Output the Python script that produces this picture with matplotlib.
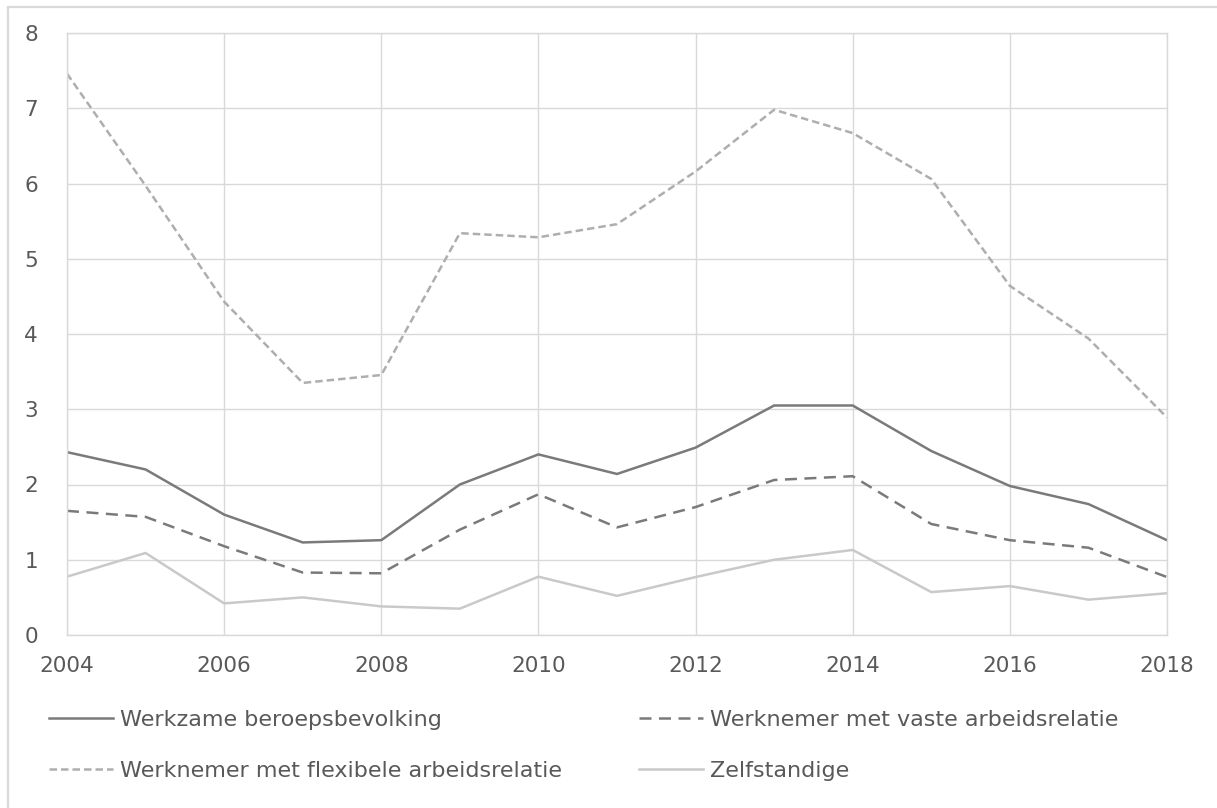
import matplotlib
matplotlib.use("Agg")
import matplotlib.pyplot as plt
from matplotlib.patches import Rectangle

years = list(range(2004, 2019))
werkzame = [2.43, 2.20, 1.60, 1.23, 1.26, 2.00, 2.40, 2.14, 2.49, 3.05, 3.05, 2.445, 1.98, 1.74, 1.26]
vaste = [1.65, 1.57, 1.18, 0.83, 0.82, 1.40, 1.87, 1.43, 1.70, 2.06, 2.11, 1.475, 1.26, 1.16, 0.77]
flexibel = [7.46, 5.97, 4.43, 3.35, 3.455, 5.34, 5.285, 5.46, 6.16, 6.98, 6.67, 6.06, 4.64, 3.94, 2.89]
zelfstandig = [0.775, 1.09, 0.42, 0.50, 0.38, 0.35, 0.775, 0.52, 0.77, 1.00, 1.13, 0.57, 0.65, 0.47, 0.555]
labels = ["Werkzame beroepsbevolking", "Werknemer met vaste arbeidsrelatie",
          "Werknemer met flexibele arbeidsrelatie", "Zelfstandige"]
xticks = [2004, 2006, 2008, 2010, 2012, 2014, 2016, 2018]
yticks = [0, 1, 2, 3, 4, 5, 6, 7, 8]

plt.rcParams['font.family'] = ['DejaVu Sans']
W, H = 1217, 808
fig = plt.figure(figsize=(W / 100, H / 100), dpi=100)
ax = fig.add_axes([67 / W, 1 - 635 / H, (1167 - 67) / W, (635 - 33) / H])

dark = '#7a7a7a'
l1, = ax.plot(years, werkzame, color=dark, lw=1.8, solid_joinstyle='miter')
l2, = ax.plot(years, vaste, color=dark, lw=1.8, linestyle=(0, (4.8, 3)))
l3, = ax.plot(years, flexibel, color='#b0adad', lw=1.8, linestyle=(0, (3, 1.6)))
l4, = ax.plot(years, zelfstandig, color='#c9c9c9', lw=1.8)

ax.set_xlim(2004, 2018)
ax.set_ylim(0, 8)
ax.set_xticks(xticks)
ax.set_yticks(yticks)
ax.grid(True, color='#d9d9d9', lw=1.0)
ax.set_axisbelow(True)
for s in ax.spines.values():
    s.set_color('#d9d9d9')
    s.set_linewidth(1.0)
ax.tick_params(axis='both', length=0, labelsize=15.5, labelcolor='#595959')
ax.tick_params(axis='y', pad=21)
ax.tick_params(axis='x', pad=15)

fs = 16
kw = dict(loc='center left', frameon=False, fontsize=fs, handlelength=2.9,
          handletextpad=0.3, labelspacing=1.42, borderpad=0, borderaxespad=0)
leg1 = fig.legend([l1, l3], [labels[0], labels[2]],
                  bbox_to_anchor=(49 / W, 1 - 745.3 / H), **kw)
leg2 = fig.legend([l2, l4], [labels[1], labels[3]],
                  bbox_to_anchor=(639 / W, 1 - 745.3 / H), **kw)
for lg in (leg1, leg2):
    for t in lg.get_texts():
        t.set_color('#595959')

fig.add_artist(Rectangle((8 / W, -0.1), 1.2, 1.1 - 7 / H, transform=fig.transFigure,
                         fill=False, edgecolor='#d9d9d9', lw=1.6, clip_on=False))

fig.savefig('out.png', dpi=100, facecolor='white')
